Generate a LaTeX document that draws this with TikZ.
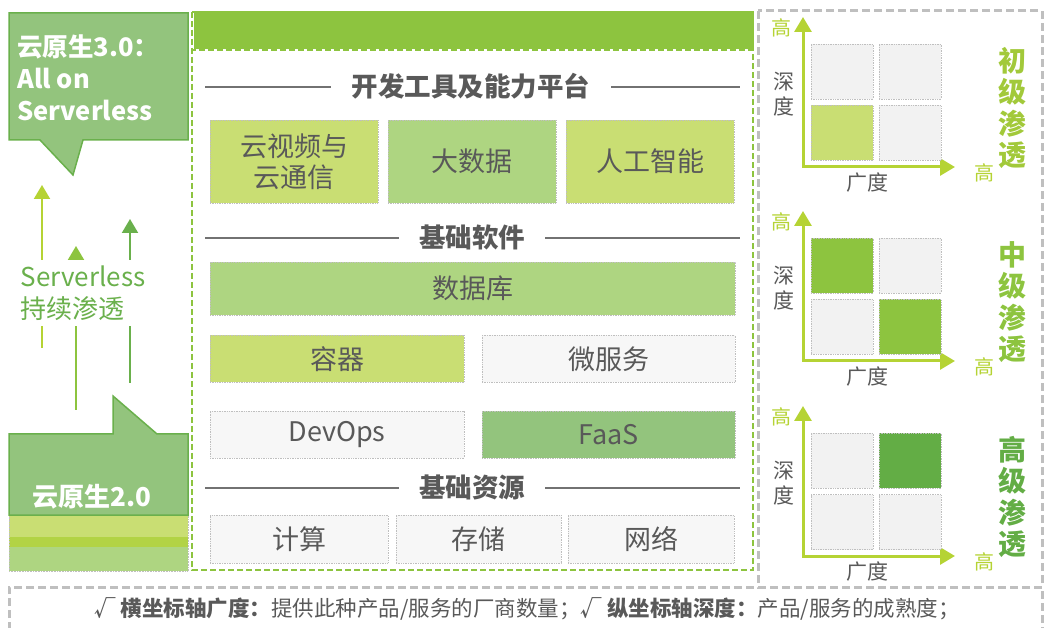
\documentclass[tikz,border=0pt]{standalone}
\usepackage{fontspec}
\setmainfont{Noto Sans CJK SC}
\usetikzlibrary{arrows.meta}
\definecolor{ygreen}{HTML}{C9DE73}
\definecolor{lgreen}{HTML}{AED581}
\definecolor{mgreen}{HTML}{93C47D}
\definecolor{bgreen}{HTML}{8DC43F}
\definecolor{dgreen}{HTML}{63AD45}
\definecolor{edgegreen}{HTML}{6AB04C}
\definecolor{stripegreen}{HTML}{B2D345}
\definecolor{txtgray}{HTML}{595959}
\definecolor{cellgray}{HTML}{F2F2F2}
\definecolor{boxgray}{HTML}{BFBFBF}
\definecolor{axisgreen}{HTML}{B5D334}
\definecolor{t1green}{HTML}{A2C93A}
\newcommand\mychart[8]{%
\begin{scope}[shift={(803,#1)}]
  \draw[axisline] (0,-150) -- (0,0) -- (152,0);
  \node[cell, fill=#5] (#2tl) at (39,-95.5) {};
  \node[cell, fill=#6] (#2tr) at (107,-95.5) {};
  \node[cell, fill=#7] (#2bl) at (39,-34) {};
  \node[cell, fill=#8] (#2br) at (107,-34) {};
  \node[hi] (#2hy) at (-22,-139) {高};
  \node[hi] (#2hx) at (181,6) {高};
  \node[axlab, align=center] (#2dy) at (-19,-72.5) {深\\度};
  \node[axlab] (#2dx) at (64,16) {广度};
  \node[charttitle, text=#4] (#2ti) at (209,-59) {#3};
\end{scope}}
\begin{document}
\begin{tikzpicture}[x=1pt,y=-1pt,
  cbox/.style={draw=boxgray, densely dotted, line width=0.7pt, inner sep=0pt,
    text=txtgray, font=\fontsize{27pt}{31pt}\selectfont, align=center},
  hdr/.style={text=txtgray, font=\bfseries\fontsize{26.5pt}{30pt}\selectfont, inner sep=0pt},
  hline/.style={draw=txtgray!85, line width=1.4pt},
  cell/.style={draw=boxgray, densely dotted, line width=0.7pt, minimum width=62pt,
    minimum height=55pt, inner sep=0pt},
  axisline/.style={draw=axisgreen, line width=3pt,
    {Triangle[width=17pt,length=15pt]}-{Triangle[width=17pt,length=15pt]}},
  hi/.style={text=axisgreen, font=\fontsize{20pt}{24pt}\selectfont, inner sep=0pt},
  axlab/.style={text=txtgray, font=\fontsize{21pt}{25pt}\selectfont, inner sep=0pt},
  charttitle/.style={font=\bfseries\fontsize{28pt}{31.5pt}\selectfont, align=center, inner sep=0pt},
  callout/.style={fill=mgreen, draw=edgegreen, line width=1.5pt, line join=miter},
  uparrow/.style={line width=2pt, -{Triangle[width=16pt,length=14pt]}},
]
\useasboundingbox (0,0) rectangle (1045,628);

% ---------- left side ----------
\draw[callout] (9,13) -- (188,13) -- (188,140) -- (83,140) -- (73,175) -- (40,140) -- (9,140) -- cycle;
\node[anchor=west, align=left, text=white, inner sep=0pt,
  font=\bfseries\fontsize{25.5pt}{32pt}\selectfont] (v3) at (17,78) {云原生3.0：\\All on\\Serverless};

\fill[ygreen] (9,515) rectangle (188,537);
\fill[stripegreen] (9,537) rectangle (188,547);
\fill[lgreen] (9,547) rectangle (188,571);
\draw[boxgray, densely dotted, line width=0.6pt] (9,515) rectangle (188,571);
\draw[callout] (9,434) -- (113,434) -- (113,396) -- (157,434) -- (188,434) -- (188,515) -- (9,515) -- cycle;
\node[text=white, inner sep=0pt, font=\bfseries\fontsize{26pt}{30pt}\selectfont] (v2) at (92,497) {云原生2.0};

\coordinate (a1s) at (42,348); \coordinate (a1e) at (42,185);
\coordinate (a2s) at (76,410); \coordinate (a2e) at (76,246);
\coordinate (a3s) at (130,383); \coordinate (a3e) at (130,219);
\draw[uparrow, axisgreen] (a1s) -- (a1e);
\draw[uparrow, bgreen] (a2s) -- (a2e);
\draw[uparrow, edgegreen] (a3s) -- (a3e);
\node[fill=white, inner xsep=0pt, inner ysep=0pt, minimum height=66pt, align=left,
  text=edgegreen, font=\fontsize{26pt}{32pt}\selectfont] (sl) at (83,293) {Serverless\\持续渗透};

% ---------- center panel ----------
\fill[bgreen] (193.5,13.5) rectangle (751.5,49.5);
\draw[bgreen, line width=2pt, dash pattern=on 6pt off 3pt] (192,12) rectangle (753,50.5);
\draw[bgreen, line width=2pt, dash pattern=on 6pt off 3pt] (192,12) rectangle (753,570);

\node[hdr] (h1) at (471,86) {开发工具及能力平台};
\draw[hline] (205,87) -- ([xshift=-21pt]h1.west |- 205,87);
\draw[hline] ([xshift=21pt]h1.east |- 205,87) -- (740,87);

\node[cbox, fill=ygreen, minimum width=168pt, minimum height=83pt] (yun) at (294,161.5) {云视频与\\云通信};
\node[cbox, fill=lgreen, minimum width=168pt, minimum height=83pt] (dsj) at (472,161.5) {大数据};
\node[cbox, fill=ygreen, minimum width=168pt, minimum height=83pt] (ai) at (650,161.5) {人工智能};

\node[hdr] (h2) at (472,237) {基础软件};
\draw[hline] (205,238) -- ([xshift=-20pt]h2.west |- 205,238);
\draw[hline] ([xshift=20pt]h2.east |- 205,238) -- (740,238);

\node[cbox, fill=lgreen, minimum width=525pt, minimum height=53pt] (db) at (472.5,288.5) {数据库};
\node[cbox, fill=ygreen, minimum width=254pt, minimum height=47pt] (rq) at (337,359) {容器};
\node[cbox, fill=white!97!black, minimum width=253pt, minimum height=47pt] (wfw) at (608.5,359) {微服务};
\node[cbox, fill=white!97!black, minimum width=254pt, minimum height=47pt] (dev) at (337,434.5) {DevOps};
\node[cbox, fill=mgreen, minimum width=253pt, minimum height=47pt] (faas) at (608.5,434.5) {FaaS};

\node[hdr] (h3) at (472,487) {基础资源};
\draw[hline] (205,488) -- ([xshift=-20pt]h3.west |- 205,488);
\draw[hline] ([xshift=20pt]h3.east |- 205,488) -- (740,488);

\node[cbox, fill=white!97!black, minimum width=178pt, minimum height=48pt] (js) at (299,539) {计算};
\node[cbox, fill=white!97!black, minimum width=165pt, minimum height=48pt] (cc) at (478.5,539) {存储};
\node[cbox, fill=white!97!black, minimum width=166pt, minimum height=48pt] (wl) at (651,539) {网络};

% ---------- right panel ----------
\draw[boxgray, line width=3pt, dash pattern=on 8pt off 4pt] (758,11) rectangle (1042,587);
\mychart{167}{ca}{初\\级\\渗\\透}{t1green}{cellgray}{cellgray}{ygreen}{cellgray}
\mychart{361}{cb}{中\\级\\渗\\透}{bgreen}{bgreen}{cellgray}{cellgray}{bgreen}
\mychart{556}{cc}{高\\级\\渗\\透}{dgreen}{cellgray}{dgreen}{cellgray}{cellgray}

% ---------- bottom note ----------
\draw[boxgray, line width=3pt, dash pattern=on 8pt off 4pt] (9,630) -- (9,587) -- (1042,587) -- (1042,630);
\node[text=txtgray, inner sep=0pt, font=\fontsize{21.5pt}{24pt}\selectfont] (note) at (527,609)
  {{\bfseries √ 横坐标轴广度：}提供此种产品/服务的厂商数量；{\bfseries √ 纵坐标轴深度：}产品/服务的成熟度；};
\end{tikzpicture}
\end{document}
